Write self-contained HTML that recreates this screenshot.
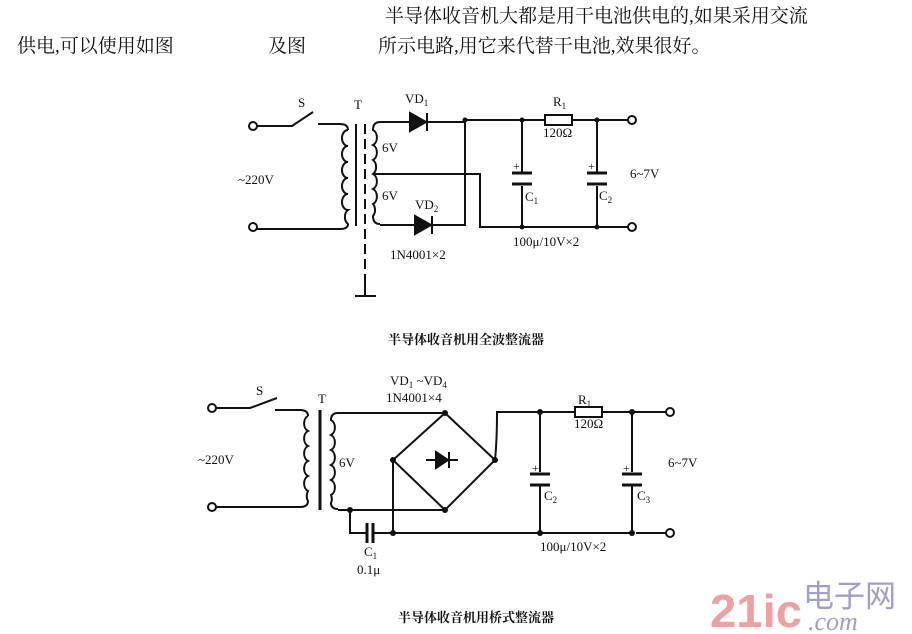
<!DOCTYPE html>
<html><head><meta charset="utf-8"><style>
body{margin:0;background:#fff;width:912px;height:634px;overflow:hidden}
svg{display:block}
text{font-family:"Liberation Serif","Noto Serif CJK SC",serif}
.c{font-family:"Liberation Serif","Noto Serif CJK SC","Noto Sans CJK SC",serif}
</style></head><body>
<svg width="912" height="634" viewBox="0 0 912 634" xmlns="http://www.w3.org/2000/svg">
<g class="c" font-size="19" fill="#111">
<text x="385" y="22">半导体收音机大都是用干电池供电的,如果采用交流</text>
<text x="17" y="52">供电,可以使用如图</text>
<text x="268" y="52">及图</text>
<text x="378" y="52">所示电路,用它来代替干电池,效果很好。</text>
</g>
<g stroke="#111" stroke-width="2" fill="none">
<circle cx="253" cy="126" r="4" fill="#fff"/><circle cx="253" cy="227" r="4" fill="#fff"/>
<circle cx="632" cy="120" r="4" fill="#fff"/><circle cx="632" cy="227" r="4" fill="#fff"/>
<path d="M257 126H292L313 112M318 124H340q8 0 8 6"/>
<path d="M348 130a6 8 0 0 0 0 16a6 8 0 0 0 0 16a6 8 0 0 0 0 16a6 8 0 0 0 0 16a6 8 0 0 0 0 16a6 8 0 0 0 0 14q0 5 -8 5H257"/>
<path d="M356 124V226"/>
<path d="M365 124V296" stroke-dasharray="10,5"/>
<path d="M355 296H376M365 296V284"/>
<path d="M380 122q-7 0 -7 8a6 8 0 0 1 0 15a6 8 0 0 1 0 15a6 8 0 0 1 0 14a6 8 0 0 1 0 15a6 8 0 0 1 0 15a6 8 0 0 1 0 12q0 8 7 8"/>
<path d="M380 122H465M465 120H628M373 174H480V227H628M380 225H465V120"/>
<path d="M522 120V172M522 186V227M597 120V172M597 186V227"/>
<path d="M512 173H532M512 184H532M587 173H607M587 184H607" stroke-width="3"/>
<rect x="545" y="115" width="27" height="10" fill="#fff"/>
<path d="M410 113V131L426 122ZM427 113V131" fill="#111"/>
<path d="M415 216V234L431 225ZM432 216V234" fill="#111"/>
<circle cx="212" cy="408" r="4" fill="#fff"/><circle cx="212" cy="507" r="4" fill="#fff"/>
<circle cx="670" cy="412" r="4" fill="#fff"/><circle cx="670" cy="533" r="4" fill="#fff"/>
<path d="M216 408H250L277 398M275 410H300q8 0 8 6"/>
<path d="M308 416a6 8 0 0 0 0 15a6 8 0 0 0 0 15a6 8 0 0 0 0 15a6 8 0 0 0 0 15a6 8 0 0 0 0 15a6 8 0 0 0 0 10q0 6 -8 6H216"/>
<path d="M320 410V510" stroke-width="3"/>
<path d="M338 413q-7 0 -7 7a6 8 0 0 1 0 15a6 8 0 0 1 0 15a6 8 0 0 1 0 15a6 8 0 0 1 0 15a6 8 0 0 1 0 15a6 8 0 0 1 0 8q0 6 7 6"/>
<path d="M338 413H445L495 460L445 510L393 460L445 413M338 510H445M350 510V533H367M374 533H632M393 460V533"/>
<path d="M367 523V543M373 523V543" stroke-width="3"/>
<path d="M495 460Q497 440 497 412H666M540 412V472M540 486V533M632 412V472M632 486V533M636 533H666"/>
<path d="M530 474H550M530 485H550M622 474H642M622 485H642" stroke-width="3"/>
<rect x="575" y="407" width="27" height="10" fill="#fff"/>
<path d="M426 460H458M436 452V468L448 460ZM449 452V468" fill="#111"/>
</g>
<g fill="#111">
<circle cx="465" cy="120" r="2.5"/><circle cx="522" cy="120" r="2.5"/><circle cx="597" cy="120" r="2.5"/>
<circle cx="522" cy="227" r="2.5"/><circle cx="597" cy="227" r="2.5"/>
<circle cx="445" cy="413" r="3"/><circle cx="393" cy="460" r="3"/><circle cx="495" cy="460" r="3"/><circle cx="445" cy="510" r="3"/>
<circle cx="350" cy="510" r="3"/><circle cx="393" cy="533" r="3"/><circle cx="540" cy="412" r="3"/><circle cx="632" cy="412" r="3"/>
<circle cx="540" cy="533" r="3"/><circle cx="632" cy="533" r="3"/>
</g>
<g font-size="13" fill="#111">
<text x="298" y="107">S</text><text x="354" y="109">T</text>
<text x="405" y="103">VD<tspan font-size="9" dy="3">1</tspan></text>
<text x="382" y="152">6V</text><text x="382" y="200">6V</text>
<text x="415" y="209">VD<tspan font-size="9" dy="3">2</tspan></text>
<text x="390" y="259">1N4001×2</text>
<text x="238" y="184">~220V</text>
<text x="553" y="106">R<tspan font-size="9" dy="3">1</tspan></text>
<text x="543" y="137">120Ω</text>
<text x="525" y="201">C<tspan font-size="9" dy="3">1</tspan></text>
<text x="599" y="200">C<tspan font-size="9" dy="3">2</tspan></text>
<text x="513" y="170" font-size="12">+</text><text x="588" y="170" font-size="12">+</text>
<text x="630" y="178">6~7V</text>
<text x="513" y="246">100μ/10V×2</text>
<text x="390" y="385">VD<tspan font-size="9" dy="3">1</tspan><tspan dy="-3"> ~VD</tspan><tspan font-size="9" dy="3">4</tspan></text>
<text x="386" y="402">1N4001×4</text>
<text x="256" y="395">S</text><text x="318" y="403">T</text>
<text x="198" y="464">~220V</text><text x="339" y="467">6V</text>
<text x="578" y="404">R<tspan font-size="9" dy="3">1</tspan></text>
<text x="574" y="428">120Ω</text>
<text x="668" y="467">6~7V</text>
<text x="532" y="472" font-size="12">+</text><text x="623" y="472" font-size="12">+</text>
<text x="544" y="500">C<tspan font-size="9" dy="3">2</tspan></text>
<text x="637" y="500">C<tspan font-size="9" dy="3">3</tspan></text>
<text x="540" y="551">100μ/10V×2</text>
<text x="364" y="556">C<tspan font-size="9" dy="3">1</tspan></text>
<text x="357" y="574">0.1μ</text>
</g>
<g class="c" font-size="13" font-weight="bold" fill="#111">
<text x="388" y="344">半导体收音机用全波整流器</text>
<text x="398" y="622">半导体收音机用桥式整流器</text>
</g>
<text x="710" y="627" style="font-family:'Liberation Sans',sans-serif;font-weight:bold;font-size:46px;fill:#eea0a0" textLength="92" lengthAdjust="spacingAndGlyphs">21ic</text>
<text x="803" y="607" style="font-family:'Liberation Sans','Noto Sans CJK SC',sans-serif;font-size:31px;fill:#9ea0cc">电子网</text>
<text x="808" y="630" style="font-family:'Liberation Serif',serif;font-style:italic;font-size:26px;fill:#9ea0cc">.com</text>
</svg>
</body></html>
